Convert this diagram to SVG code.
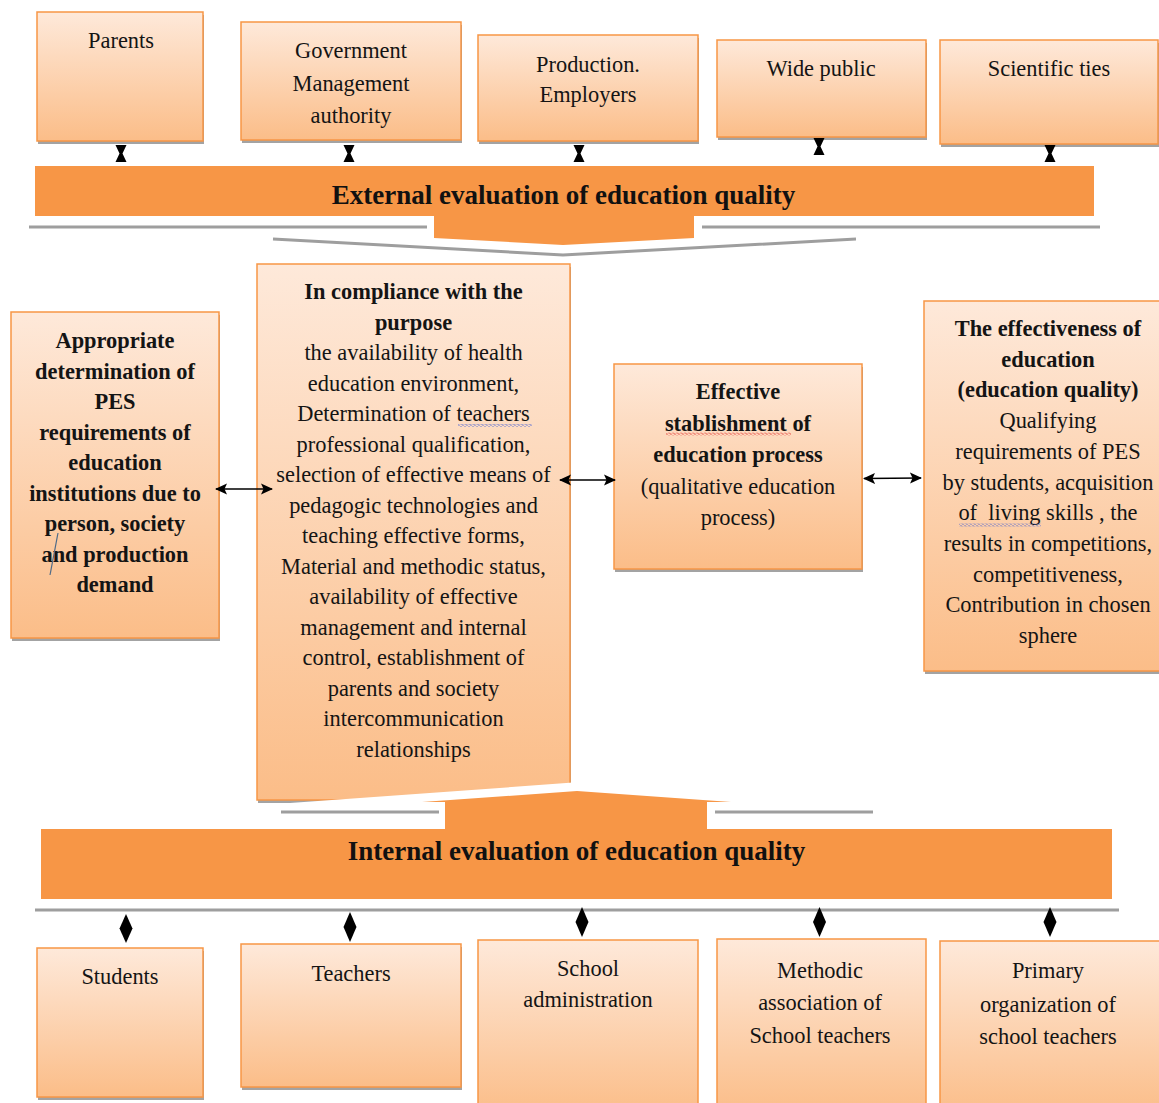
<svg xmlns="http://www.w3.org/2000/svg" width="1159" height="1103" viewBox="0 0 1159 1103">
<style>
.box{fill:url(#g);stroke:#F79646;stroke-width:1.5}
.sh{fill:#a3a3a3}
.t{font-family:'Liberation Serif','DejaVu Serif',serif;font-size:22.4px;fill:#141414;text-anchor:middle}
.b{font-weight:bold}
.bt{font-family:'Liberation Serif','DejaVu Serif',serif;font-size:27px;font-weight:bold;fill:#111;text-anchor:middle}
.bar{fill:#F79646}
.gl{stroke:#9e9e9e;stroke-width:3;fill:none}
.dbl{stroke:#000;stroke-width:1.6;fill:none;marker-start:url(#ah);marker-end:url(#ah)}
.k{fill:#000}
</style>
<defs>
<linearGradient id="g" x1="0" y1="0" x2="0" y2="1">
<stop offset="0" stop-color="#FEE9DA"/>
<stop offset="1" stop-color="#FBBD88"/>
</linearGradient>
<marker id="ah" viewBox="0 0 12 12" refX="11" refY="6" markerWidth="12" markerHeight="12" markerUnits="userSpaceOnUse" orient="auto-start-reverse">
<path d="M0,0.5 L12,6 L0,11.5 L2.5,6 z" fill="#000"/>
</marker>
<pattern id="wb" width="4" height="3" patternUnits="userSpaceOnUse"><path d="M0,1.5 L1,0.5 L3,2.5 L4,1.5" stroke="#2d4fd8" stroke-width="0.8" fill="none"/></pattern>
<pattern id="wr" width="4" height="3" patternUnits="userSpaceOnUse"><path d="M0,1.5 L1,0.5 L3,2.5 L4,1.5" stroke="#e02020" stroke-width="0.8" fill="none"/></pattern>
</defs>
<rect width="1159" height="1103" fill="#fff"/>

<!-- top row -->
<g id="parents">
<rect class="sh" x="38" y="15" width="166" height="129"/>
<rect class="box" x="37" y="12" width="166" height="129"/>
<text class="t" x="121" y="47.5" font-family="Liberation Serif">Parents</text>
</g>
<g id="government">
<rect class="sh" x="242" y="25" width="220" height="118"/>
<rect class="box" x="241" y="22" width="220" height="118"/>
<text class="t"><tspan x="351" y="58">Government</tspan><tspan x="351" y="90.5">Management</tspan><tspan x="351" y="122.5">authority</tspan></text>
</g>
<g id="production">
<rect class="sh" x="479" y="38" width="220" height="106"/>
<rect class="box" x="478" y="35" width="220" height="106"/>
<text class="t"><tspan x="588" y="71.5">Production.</tspan><tspan x="588" y="102">Employers</tspan></text>
</g>
<g id="widepublic">
<rect class="sh" x="718" y="43" width="209" height="97"/>
<rect class="box" x="717" y="40" width="209" height="97"/>
<text class="t" x="821" y="76">Wide public</text>
</g>
<g id="scientific">
<rect class="sh" x="941" y="43" width="218" height="104"/>
<rect class="box" x="940" y="40" width="218" height="104"/>
<text class="t" x="1049" y="76">Scientific ties</text>
</g>

<!-- external bar -->
<g id="external">
<line class="gl" x1="29" y1="227" x2="427" y2="227"/>
<line class="gl" x1="702" y1="227" x2="1100" y2="227"/>
<polyline class="gl" points="273,239 563,255 856,239"/>
<rect class="bar" x="35" y="166" width="1059" height="50"/>
<polygon class="bar" points="434,215 694,215 694,238 563,245 434,238"/>
<text class="bt" x="563.5" y="204">External evaluation of education quality</text>
</g>

<!-- middle row -->
<g id="appropriate">
<rect class="sh" x="12" y="315" width="208" height="326"/>
<rect class="box" x="11" y="312" width="208" height="326"/>
<text class="t b"><tspan x="115" y="348">Appropriate</tspan><tspan x="115" y="378.5">determination of</tspan><tspan x="115" y="409">PES</tspan><tspan x="115" y="439.5">requirements of</tspan><tspan x="115" y="470">education</tspan><tspan x="115" y="500.5">institutions due to</tspan><tspan x="115" y="531">person, society</tspan><tspan x="115" y="561.5">and production</tspan><tspan x="115" y="592">demand</tspan></text>
<line x1="58" y1="533" x2="50" y2="575" stroke="#4d6a88" stroke-width="1.2"/>
</g>
<g id="compliance">
<rect class="sh" x="258" y="267" width="313" height="536"/>
<rect class="box" x="257" y="264" width="313" height="536"/>
<text class="t"><tspan class="b" x="413.5" y="299">In compliance with the</tspan><tspan class="b" x="413.5" y="329.5">purpose</tspan><tspan x="413.5" y="360">the availability of health</tspan><tspan x="413.5" y="390.5">education environment,</tspan><tspan x="413.5" y="421">Determination of teachers</tspan><tspan x="413.5" y="451.5">professional qualification,</tspan><tspan x="413.5" y="482">selection of effective means of</tspan><tspan x="413.5" y="512.5">pedagogic technologies and</tspan><tspan x="413.5" y="543">teaching effective forms,</tspan><tspan x="413.5" y="573.5">Material and methodic status,</tspan><tspan x="413.5" y="604">availability of effective</tspan><tspan x="413.5" y="634.5">management and internal</tspan><tspan x="413.5" y="665">control, establishment of</tspan><tspan x="413.5" y="695.5">parents and society</tspan><tspan x="413.5" y="726">intercommunication</tspan><tspan x="413.5" y="756.5">relationships</tspan></text>
<rect x="458" y="424" width="74" height="3" fill="url(#wb)"/>
</g>
<g id="effective">
<rect class="sh" x="615" y="367" width="248" height="205"/>
<rect class="box" x="614" y="364" width="248" height="205"/>
<text class="t"><tspan class="b" x="738" y="399">Effective</tspan><tspan class="b" x="738" y="430.5">stablishment of</tspan><tspan class="b" x="738" y="462">education process</tspan><tspan x="738" y="493.5">(qualitative education</tspan><tspan x="738" y="525">process)</tspan></text>
<rect x="666" y="432.5" width="125" height="3" fill="url(#wr)"/>
</g>
<g id="effectiveness">
<rect class="sh" x="925" y="304" width="248" height="370"/>
<rect class="box" x="924" y="301" width="248" height="370"/>
<text class="t"><tspan class="b" x="1048" y="336">The effectiveness of</tspan><tspan class="b" x="1048" y="366.7">education</tspan><tspan class="b" x="1048" y="397.4">(education quality)</tspan><tspan x="1048" y="428.1">Qualifying</tspan><tspan x="1048" y="458.8">requirements of PES</tspan><tspan x="1048" y="489.5">by students, acquisition</tspan><tspan x="1048" y="520.2" xml:space="preserve">of  living skills , the</tspan><tspan x="1048" y="550.9">results in competitions,</tspan><tspan x="1048" y="581.6">competitiveness,</tspan><tspan x="1048" y="612.3">Contribution in chosen</tspan><tspan x="1048" y="643">sphere</tspan></text>
<rect x="959" y="523.5" width="82" height="3" fill="url(#wb)"/>
</g>

<!-- internal bar -->
<g id="internal">
<line class="gl" x1="281" y1="812" x2="439" y2="812"/>
<line class="gl" x1="715" y1="812" x2="873" y2="812"/>
<line class="gl" x1="35" y1="910" x2="1119" y2="910"/>
<polygon fill="#fff" points="290,803.1 573,782.6 573,808.5 290,808.5"/>
<rect class="bar" x="41" y="829" width="1071" height="70"/>
<polygon class="bar" points="445,830 445,802 422,802 577,791 731,802 707,802 707,830"/>
<text class="bt" x="576.5" y="860">Internal evaluation of education quality</text>
</g>

<!-- bottom row -->
<g id="students">
<rect class="sh" x="38" y="951" width="166" height="149"/>
<rect class="box" x="37" y="948" width="166" height="149"/>
<text class="t" x="120" y="984">Students</text>
</g>
<g id="teachers">
<rect class="sh" x="242" y="947" width="220" height="143"/>
<rect class="box" x="241" y="944" width="220" height="143"/>
<text class="t" x="351" y="980.5">Teachers</text>
</g>
<g id="administration">
<rect class="box" x="478" y="940" width="220" height="175"/>
<text class="t"><tspan x="588" y="976">School</tspan><tspan x="588" y="1007">administration</tspan></text>
</g>
<g id="methodic">
<rect class="box" x="717" y="939" width="209" height="175"/>
<text class="t"><tspan x="820" y="978">Methodic</tspan><tspan x="820" y="1010">association of</tspan><tspan x="820" y="1042.5">School teachers</tspan></text>
</g>
<g id="primary">
<rect class="box" x="940" y="941" width="220" height="175"/>
<text class="t"><tspan x="1048" y="978">Primary</tspan><tspan x="1048" y="1011.5">organization of</tspan><tspan x="1048" y="1043.5">school teachers</tspan></text>
</g>

<!-- connectors -->
<g id="connectors">
<polygon class="k" points="115.5,145 126.5,145 122.5,153.5 126.5,162 115.5,162 119.5,153.5"/>
<polygon class="k" points="343.5,145 354.5,145 350.5,153.5 354.5,162 343.5,162 347.5,153.5"/>
<polygon class="k" points="573.5,145 584.5,145 580.5,153.5 584.5,162 573.5,162 577.5,153.5"/>
<polygon class="k" points="813.5,138 824.5,138 820.5,146.5 824.5,155 813.5,155 817.5,146.5"/>
<polygon class="k" points="1044.5,145 1055.5,145 1051.5,153.5 1055.5,162 1044.5,162 1048.5,153.5"/>
<line class="dbl" x1="216" y1="489" x2="272" y2="489"/>
<line class="dbl" x1="560" y1="480" x2="615" y2="480"/>
<line class="dbl" x1="864" y1="478.5" x2="921" y2="478"/>
<polygon class="k" points="126,914 132.5,928.5 126,943 119.5,928.5"/>
<polygon class="k" points="350,912 356.5,927 350,942 343.5,927"/>
<polygon class="k" points="582,907 588.5,922 582,937 575.5,922"/>
<polygon class="k" points="819.5,907 826,922 819.5,937 813,922"/>
<polygon class="k" points="1050,907 1056.5,922 1050,937 1043.5,922"/>
</g>
</svg>
